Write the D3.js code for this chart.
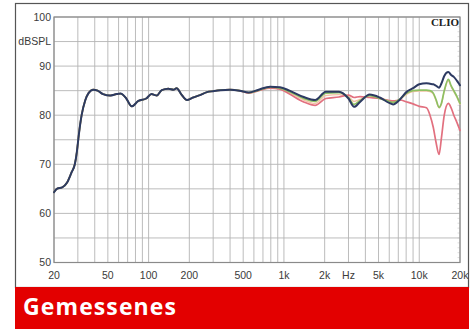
<!DOCTYPE html>
<html>
<head>
<meta charset="utf-8">
<script src="https://cdn.jsdelivr.net/npm/d3@7"></script>
<style>
  html, body { margin: 0; padding: 0; background: #fff; }
  svg { display: block; }
</style>
</head>
<body>
<div id="vis"></div>
<script>
// frequency grid (Hz) shared by all curves
var freqs = [20, 21, 23, 25, 27, 28.5, 29.5, 30.5, 32, 34, 36, 39, 42, 46, 52, 58, 62, 68, 75, 84,
  96, 105, 115, 125, 140, 153, 161, 175, 192, 213, 240, 270, 300, 340, 400, 470, 550, 650, 790, 935,
  1100, 1400, 1700, 2040, 2550, 3000, 3300, 3650, 4300, 5100, 6000, 6400, 7200, 8100, 9000, 10000,
  11300, 12000, 12700, 13300, 14000, 14600, 15300, 16400, 17200, 18000, 19000, 20000];

var blueVals = [64.3, 65.0, 65.3, 66.3, 68.4, 70.0, 72.5, 76, 80, 83, 84.5, 85.2, 85.0, 84.3, 84.0, 84.3, 84.4, 83.5, 81.8, 82.9,
  83.4, 84.3, 84.0, 85.1, 85.4, 85.2, 85.5, 84.2, 83.1, 83.6, 84.1, 84.7, 84.9, 85.1, 85.2, 85.0, 84.6, 85.2, 85.8, 85.7,
  85.0, 83.7, 83.1, 84.8, 84.8, 83.4, 81.7, 82.7, 84.2, 83.6, 82.5, 82.2, 83.2, 84.8, 85.5, 86.3,
  86.5, 86.4, 86.3, 86.0, 85.6, 86.5, 88.0, 88.8, 88.2, 87.8, 87.0, 86.1];

var greenVals = [64.3, 65.0, 65.3, 66.3, 68.4, 70.0, 72.5, 76, 80, 83, 84.5, 85.2, 85.0, 84.3, 84.0, 84.3, 84.4, 83.5, 81.8, 82.9,
  83.4, 84.3, 84.0, 85.1, 85.4, 85.2, 85.5, 84.2, 83.1, 83.6, 84.1, 84.7, 84.9, 85.1, 85.2, 85.0, 84.6, 85.1, 85.7, 85.5,
  84.8, 83.4, 82.8, 84.5, 84.6, 83.6, 82.2, 83.0, 84.0, 83.4, 82.8, 82.6, 83.3, 84.5, 85.0, 85.1,
  85.1, 85.0, 84.5, 83.2, 81.6, 82.5, 85.0, 87.3, 86.0, 85.0, 83.8, 82.4];

var redVals = [64.3, 65.0, 65.3, 66.3, 68.4, 70.0, 72.5, 76, 80, 83, 84.5, 85.2, 85.0, 84.3, 84.0, 84.3, 84.4, 83.5, 81.8, 82.9,
  83.4, 84.3, 84.0, 85.1, 85.4, 85.2, 85.5, 84.2, 83.1, 83.6, 84.1, 84.7, 84.9, 85.1, 85.2, 85.0, 84.5, 85.0, 85.5, 85.3,
  84.3, 82.7, 82.0, 83.4, 83.7, 84.1, 83.6, 83.8, 83.6, 83.4, 83.0, 82.9, 83.1, 82.7, 82.3, 81.8,
  81.5, 80.0, 77.5, 74.5, 72.0, 75.5, 80.0, 82.4, 81.5, 80.0, 78.5, 76.9];

var peachVals = [64.3, 65.0, 65.3, 66.3, 68.4, 70.0, 72.5, 76, 80, 83, 84.5, 85.2, 85.0, 84.3, 84.0, 84.3, 84.4, 83.5, 81.8, 82.9,
  83.4, 84.3, 84.0, 85.1, 85.4, 85.2, 85.5, 84.2, 83.1, 83.6, 84.1, 84.7, 84.9, 85.1, 85.2, 85.0, 84.5, 85.0, 85.6, 85.4,
  84.6, 83.1, 82.4, 84.0, 84.2, 83.8, 82.8, 83.2, 84.0, 83.5, 82.9, 82.7, 83.2, 84.3, 84.8, 84.9,
  84.9, 84.8, 84.3, 83.0, 81.5, 82.3, 84.8, 87.0, 85.8, 84.8, 83.6, 82.2];

var xTickVals = [20, 50, 100, 200, 500, 1000, 2000, 3000, 5000, 10000, 20000];
var xTickLabels = ["20", "50", "100", "200", "500", "1k", "2k", "Hz", "5k", "10k", "20k"];
var xGridVals = [20, 30, 40, 50, 60, 70, 80, 90, 100, 200, 300, 400, 500, 600, 700, 800, 900,
  1000, 2000, 3000, 4000, 5000, 6000, 7000, 8000, 9000, 10000, 20000];
var yTickVals = [100, 95, 90, 80, 70, 60, 50];
var yTickLabels = ["100", "dBSPL", "90", "80", "70", "60", "50"];
var yGridVals = [50, 55, 60, 65, 70, 75, 80, 85, 90, 95, 100];

var series = [
  {name: "peach", values: peachVals, color: "#f3c3a6", width: 1.4},
  {name: "red", values: redVals, color: "#e2707f", width: 1.7},
  {name: "green", values: greenVals, color: "#8dc062", width: 1.7},
  {name: "blue", values: blueVals, color: "#2d3a62", width: 2}
];

const W = 475, H = 329;
const plot = {left: 54, top: 17, right: 460, bottom: 262.5};

const svg = d3.select("#vis").append("svg")
    .attr("width", W)
    .attr("height", H);

const x = d3.scaleLog().domain([20, 20000]).range([plot.left, plot.right]);
const y = d3.scaleLinear().domain([50, 100]).range([plot.bottom, plot.top]);

// outer frame
svg.append("rect")
    .attr("x", 15.5).attr("y", 3.5)
    .attr("width", 453).attr("height", 284)
    .attr("fill", "#fff")
    .attr("stroke", "#555")
    .attr("stroke-width", 1.2);

// red title band
svg.append("rect")
    .attr("x", 15).attr("y", 287)
    .attr("width", 454).attr("height", 42)
    .attr("fill", "#e30000");

svg.append("text")
    .attr("x", 23).attr("y", 315)
    .attr("fill", "#fff")
    .attr("font-family", "'Open Sans', sans-serif")
    .attr("font-weight", "bold")
    .attr("font-size", 23)
    .attr("letter-spacing", 1.1)
    .text("Gemessenes");

// grid
svg.append("g")
    .attr("stroke", "#b4b4b4")
    .attr("stroke-width", 0.9)
  .selectAll("line")
  .data(yGridVals)
  .join("line")
    .attr("x1", plot.left).attr("x2", plot.right)
    .attr("y1", d => y(d)).attr("y2", d => y(d));

svg.append("g")
    .attr("stroke", "#b4b4b4")
    .attr("stroke-width", 0.9)
  .selectAll("line")
  .data(xGridVals)
  .join("line")
    .attr("x1", d => x(d)).attr("x2", d => x(d))
    .attr("y1", plot.top).attr("y2", plot.bottom);

// small ticks on the right edge, every dB
svg.append("g")
    .attr("stroke", "#c8c8c8")
    .attr("stroke-width", 0.6)
  .selectAll("line")
  .data(d3.range(50, 101, 1))
  .join("line")
    .attr("x1", plot.right - 2.5).attr("x2", plot.right)
    .attr("y1", d => y(d)).attr("y2", d => y(d));

// plot border
svg.append("rect")
    .attr("x", plot.left).attr("y", plot.top)
    .attr("width", plot.right - plot.left)
    .attr("height", plot.bottom - plot.top)
    .attr("fill", "none")
    .attr("stroke", "#8a8a8a")
    .attr("stroke-width", 1.2);

// axis labels
svg.append("g")
    .attr("font-family", "'Liberation Sans', Arial, sans-serif")
    .attr("font-size", 10.5)
    .attr("fill", "#3a3a3a")
    .attr("text-anchor", "end")
  .selectAll("text")
  .data(yTickVals)
  .join("text")
    .attr("x", 51)
    .attr("y", d => y(d))
    .attr("dy", "0.35em")
    .text((d, i) => yTickLabels[i]);

svg.append("g")
    .attr("font-family", "'Liberation Sans', Arial, sans-serif")
    .attr("font-size", 10.5)
    .attr("fill", "#3a3a3a")
    .attr("text-anchor", "middle")
  .selectAll("text")
  .data(xTickVals)
  .join("text")
    .attr("x", d => x(d))
    .attr("y", 279)
    .text((d, i) => xTickLabels[i]);

svg.append("text")
    .attr("x", 459).attr("y", 26)
    .attr("text-anchor", "end")
    .attr("font-family", "'Liberation Serif', 'DejaVu Serif', serif")
    .attr("font-weight", "bold")
    .attr("font-size", 11)
    .attr("fill", "#222")
    .text("CLIO");

// curves
const line = d3.line()
    .x(d => x(d[0]))
    .y(d => y(d[1]))
    .curve(d3.curveMonotoneX);

svg.append("g")
    .attr("fill", "none")
    .attr("stroke-linejoin", "round")
    .attr("stroke-linecap", "round")
  .selectAll("path")
  .data(series)
  .join("path")
    .attr("stroke", d => d.color)
    .attr("stroke-width", d => d.width)
    .attr("d", d => line(freqs.map((f, i) => [f, d.values[i]])));
</script>
</body>
</html>
